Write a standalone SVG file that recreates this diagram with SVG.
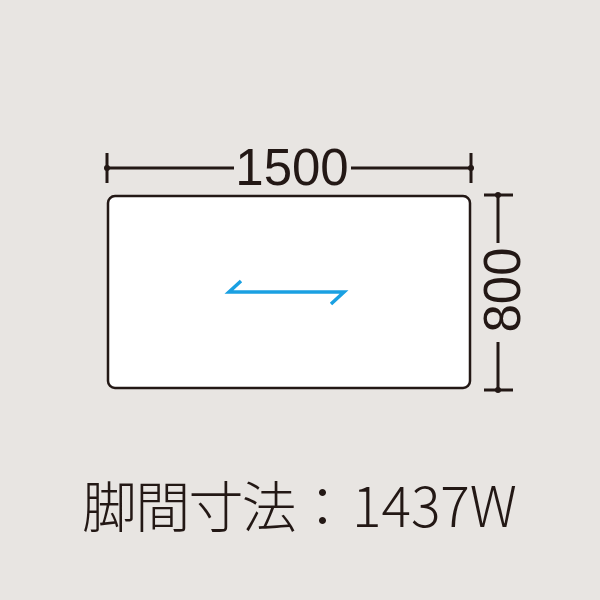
<svg xmlns="http://www.w3.org/2000/svg" width="600" height="600" viewBox="0 0 600 600">
<style>
.dim{stroke:#231815;stroke-width:3;fill:none}
.dot{fill:#231815}
.num{font-family:"Liberation Sans",Arial,sans-serif;font-size:51px;fill:#231815}
.cap{font-family:"Noto Sans CJK JP","Liberation Sans",sans-serif;font-size:55px;font-weight:300;fill:#231815}
</style>
<rect width="600" height="600" fill="#e8e5e2"/>
<g id="table">
<rect x="108" y="196" width="362" height="192" rx="7" fill="#ffffff" stroke="#231815" stroke-width="2.5"/>
<path d="M241,281 L229,292 L344,292 L331,304" fill="none" stroke="#1aa0e2" stroke-width="3.5"/>
</g>
<g id="width-dim">
<path class="dim" d="M107,153 V183 M471,153 V183 M107,168 H234 M351,168 H471"/>
<circle class="dot" cx="107" cy="168" r="3"/>
<circle class="dot" cx="471" cy="168" r="3"/>
<text class="num" x="292" y="185" text-anchor="middle">1500</text>
</g>
<g id="depth-dim">
<path class="dim" d="M484,195 H513 M484,390 H513 M498,195 V243 M498,342 V390"/>
<circle class="dot" cx="498" cy="195" r="3"/>
<circle class="dot" cx="498" cy="390" r="3"/>
<text class="num" transform="translate(520,290) rotate(-90)" text-anchor="middle">800</text>
</g>
<g id="caption">
<text class="cap" x="82" y="527" textLength="268" lengthAdjust="spacing">脚間寸法：</text>
<text class="cap" x="352" y="527" style="font-size:56px" textLength="165" lengthAdjust="spacingAndGlyphs">1437W</text>
</g>
</svg>
